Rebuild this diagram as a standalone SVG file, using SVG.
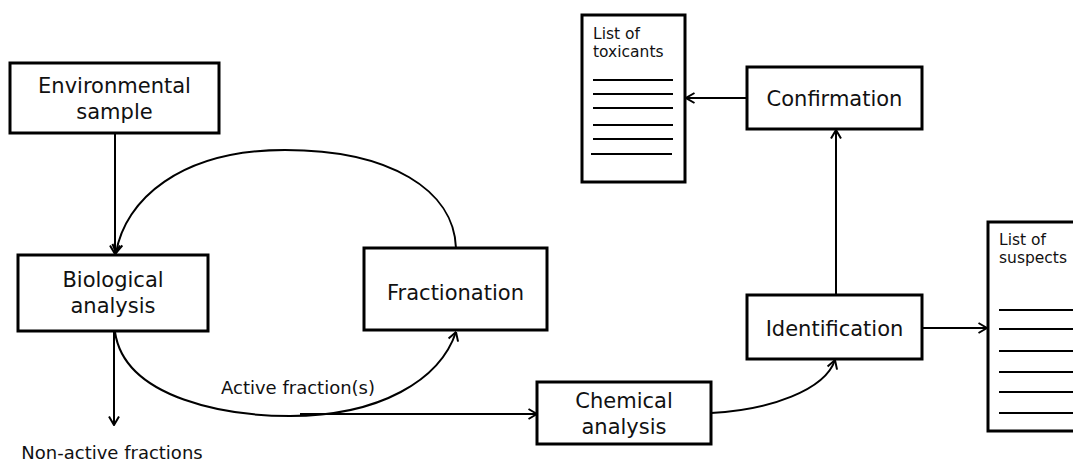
<svg xmlns="http://www.w3.org/2000/svg" width="1073" height="462" viewBox="0 0 1073 462">
<defs>
<style>
.box{fill:#fff;stroke:#000;stroke-width:3}
.t{font-family:"DejaVu Sans","Liberation Sans",sans-serif;font-size:21px;fill:#111;text-anchor:middle}
.s{font-family:"DejaVu Sans","Liberation Sans",sans-serif;font-size:18px;fill:#111;text-anchor:middle}
.d{font-family:"DejaVu Sans","Liberation Sans",sans-serif;font-size:15.5px;fill:#111}
.c{fill:none;stroke:#000;stroke-width:2}
.ln{stroke:#000;stroke-width:2}
</style>
<marker id="ah" viewBox="0 0 10 12" refX="9.5" refY="6" markerWidth="10" markerHeight="12" orient="auto" markerUnits="userSpaceOnUse">
<path d="M1,1 L9.5,6 L1,11" fill="none" stroke="#000" stroke-width="2"/>
</marker>
</defs>
<g id="connectors">
<line class="c" x1="115" y1="133" x2="115" y2="254" marker-end="url(#ah)"/>
<path class="c" d="M456,248 C454,190 390,150 285,150 C180,150 125,200 116,253" marker-end="url(#ah)"/>
<line class="c" x1="114" y1="332" x2="114" y2="425" marker-end="url(#ah)"/>
<path class="c" d="M115,332 C125,400 230,416 290,416 C380,416 440,380 456,332" marker-end="url(#ah)"/>
<line class="c" x1="300" y1="414" x2="537" y2="414" marker-end="url(#ah)"/>
<path class="c" d="M711,413 C770,410 825,390 835,360" marker-end="url(#ah)"/>
<line class="c" x1="836" y1="295" x2="836" y2="130" marker-end="url(#ah)"/>
<line class="c" x1="747" y1="98" x2="686" y2="98" marker-end="url(#ah)"/>
<line class="c" x1="922" y1="328" x2="987" y2="328" marker-end="url(#ah)"/>
</g>
<g id="environmental-sample">
<rect class="box" x="10" y="63" width="209" height="70"/>
<text class="t" x="114.5" y="93">Environmental</text>
<text class="t" x="114.5" y="119">sample</text>
</g>
<g id="biological-analysis">
<rect class="box" x="18" y="255" width="190" height="76"/>
<text class="t" x="113" y="287">Biological</text>
<text class="t" x="113" y="313">analysis</text>
</g>
<g id="fractionation">
<rect class="box" x="364" y="248" width="183" height="82"/>
<text class="t" x="455.5" y="300">Fractionation</text>
</g>
<g id="chemical-analysis">
<rect class="box" x="537" y="382" width="174" height="62"/>
<text class="t" x="624" y="408">Chemical</text>
<text class="t" x="624" y="434">analysis</text>
</g>
<g id="identification">
<rect class="box" x="747" y="295" width="175" height="64"/>
<text class="t" x="834.5" y="336">Identification</text>
</g>
<g id="confirmation">
<rect class="box" x="747" y="67" width="175" height="62"/>
<text class="t" x="834.5" y="106">Confirmation</text>
</g>
<g id="list-of-toxicants">
<rect class="box" x="582" y="15" width="103" height="167"/>
<text class="d" x="593" y="39">List of</text>
<text class="d" x="593" y="57">toxicants</text>
<line class="ln" x1="593" y1="80" x2="673" y2="80"/>
<line class="ln" x1="593" y1="94" x2="673" y2="94"/>
<line class="ln" x1="593" y1="108" x2="673" y2="108"/>
<line class="ln" x1="593" y1="125" x2="673" y2="125"/>
<line class="ln" x1="593" y1="139" x2="673" y2="139"/>
<line class="ln" x1="591" y1="154" x2="672" y2="154"/>
</g>
<g id="list-of-suspects">
<rect class="box" x="988" y="222" width="100" height="209"/>
<text class="d" x="999" y="245">List of</text>
<text class="d" x="999" y="263">suspects</text>
<line class="ln" x1="999" y1="310" x2="1073" y2="310"/>
<line class="ln" x1="999" y1="329" x2="1073" y2="329"/>
<line class="ln" x1="999" y1="351" x2="1073" y2="351"/>
<line class="ln" x1="999" y1="372" x2="1073" y2="372"/>
<line class="ln" x1="999" y1="392" x2="1073" y2="392"/>
<line class="ln" x1="999" y1="413" x2="1073" y2="413"/>
</g>
<g id="labels">
<text class="s" x="298" y="394">Active fraction(s)</text>
<text class="s" x="112" y="459">Non-active fractions</text>
</g>
</svg>
